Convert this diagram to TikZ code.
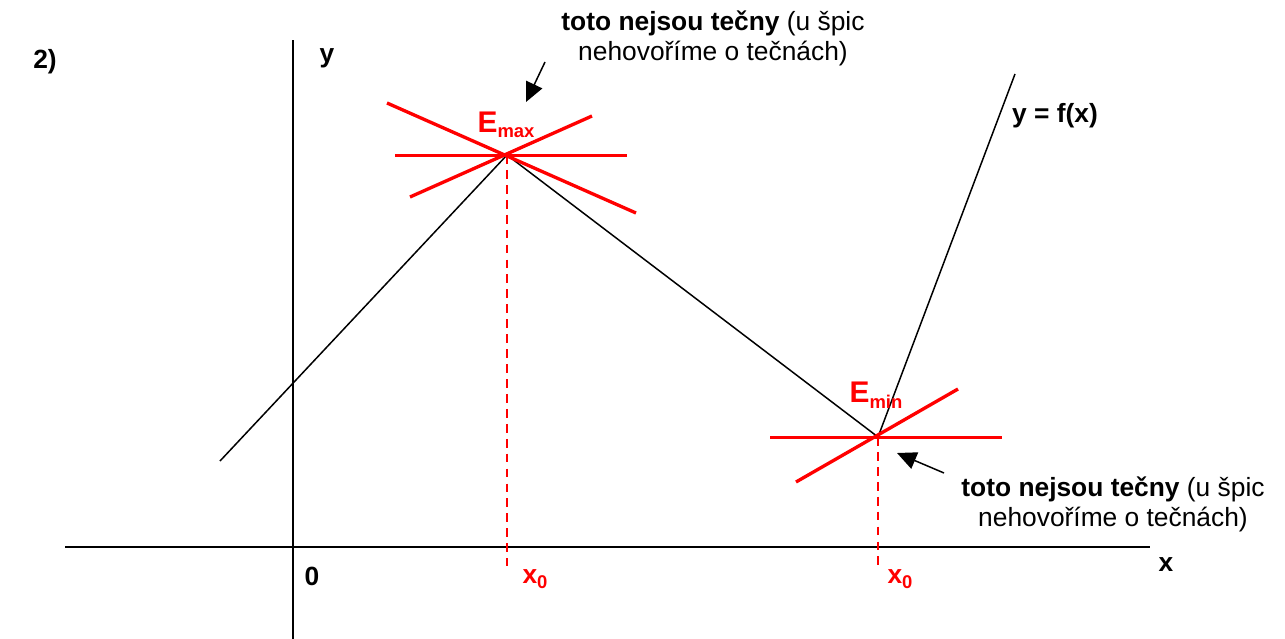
\documentclass[tikz,border=0pt]{standalone}
\usepackage{fontspec}
\setmainfont{Liberation Sans}
\usetikzlibrary{arrows.meta}
\tikzset{
    graphline/.style={black, line width=0.85pt},
    axisline/.style={black, line width=1.1pt},
    tangent/.style={red, line width=1.9pt},
    guide/.style={red, line width=0.85pt, dash pattern=on 5pt off 3.5pt},
    label/.style={font=\fontsize{15}{17}\selectfont\bfseries, inner sep=0pt},
    redlabel/.style={label, text=red},
    note/.style={font=\fontsize{15}{17}\selectfont, align=center, inner sep=0pt},
    arrow/.style={-{Triangle[length=11pt, width=10pt]}, line width=0.85pt}
}
\newcommand{\lowidx}[1]{\raisebox{-0.35ex}{\fontsize{10.5}{11}\selectfont\bfseries #1}}

\begin{document}
\begin{tikzpicture}[x=0.02cm, y=-0.02cm]
    \useasboundingbox (0,0) rectangle (1285,639);

    % Axes
    \draw[axisline] (65,547) -- (1150,547);
    \draw[axisline] (293,40) -- (293,639);
    \node[label] (ylab) at (327,58) {y};
    \node[label] (xlab) at (1166,565) {x};
    \node[label] (origin) at (312,576) {0};
    \node[label] (num) at (45,62) {2)};

    % Graph of f
    \coordinate (start) at (220,461);
    \coordinate (top) at (507,155);
    \coordinate (bottom) at (878,437);
    \coordinate (end) at (1015,74);
    \draw[graphline] (start) -- (top) -- (bottom) -- (end);
    \node[label] (flab) at (1055,116) {y = f(x)};

    % Lines through the maximum
    \draw[tangent] (395,155.5) -- (627,155.5);
    \draw[tangent] (387,103) -- (636,213);
    \draw[tangent] (410,197) -- (592,116);
    \draw[guide] (top) -- (507,566);
    \node[redlabel, font=\fontsize{17}{17}\selectfont\bfseries] (emax) at (506,125) {E\lowidx{max}};
    \node[redlabel] (xmax) at (535,579) {x\lowidx{0}};

    % Lines through the minimum
    \draw[tangent] (770,437.5) -- (1002,437.5);
    \draw[tangent] (796,482) -- (958,389);
    \draw[guide] (bottom) -- (878,570);
    \node[redlabel, font=\fontsize{17}{17}\selectfont\bfseries] (emin) at (876,395) {E\lowidx{min}};
    \node[redlabel] (xmin) at (900,579) {x\lowidx{0}};

    % Notes
    \node[note] (maxnote) at (713,38) {\textbf{toto nejsou tečny} (u špic\\nehovoříme o tečnách)};
    \node[note] (minnote) at (1113,504) {\textbf{toto nejsou tečny} (u špic\\nehovoříme o tečnách)};
    \coordinate (maxtail) at (545,62);
    \coordinate (maxtip) at (526,102);
    \coordinate (mintail) at (944,473);
    \coordinate (mintip) at (897,453);
    \draw[arrow] (maxtail) -- (maxtip);
    \draw[arrow] (mintail) -- (mintip);
\end{tikzpicture}
\end{document}
